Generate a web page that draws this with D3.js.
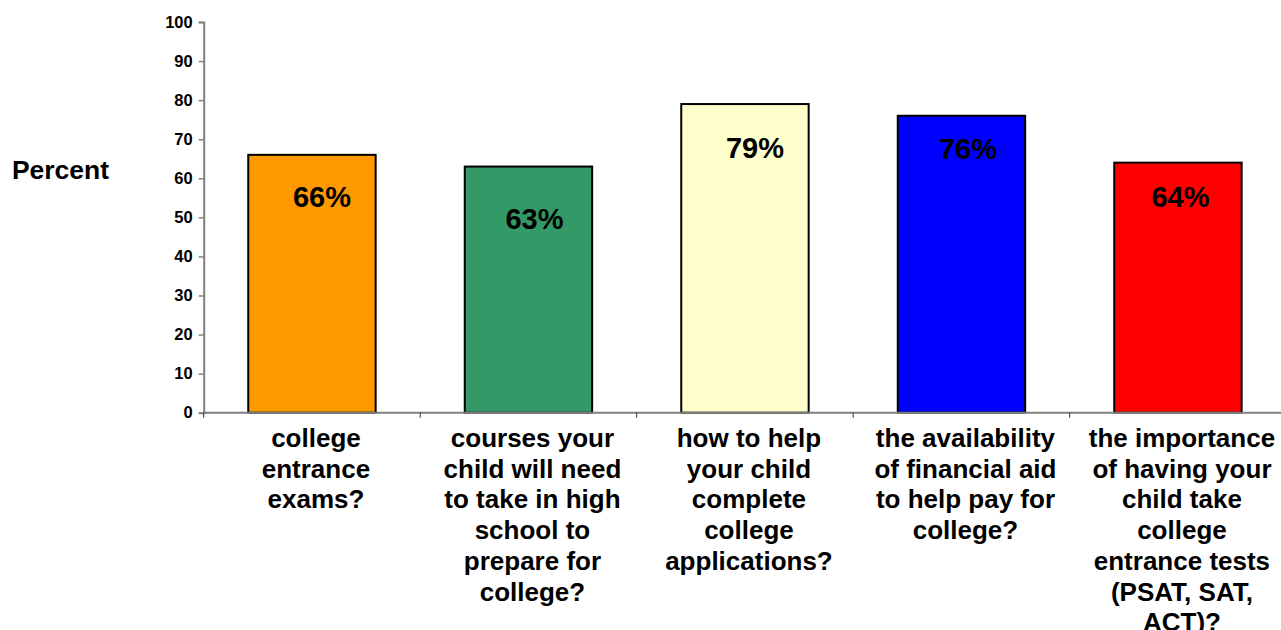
<!DOCTYPE html>
<html>
<head>
<meta charset="utf-8">
<script src="https://cdn.jsdelivr.net/npm/d3@7"></script>
<style>
  html, body { margin: 0; padding: 0; background: #fff; }
  svg { display: block; font-family: "Liberation Sans", Arial, Helvetica, sans-serif; font-weight: bold; }
</style>
</head>
<body>
<svg id="chart" width="1281" height="630"></svg>
<script>
// Survey topics (one bar each)
const categories = [
  "college entrance exams?",
  "courses your child will need to take in high school to prepare for college?",
  "how to help your child complete college applications?",
  "the availability of financial aid to help pay for college?",
  "the importance of having your child take college entrance tests (PSAT, SAT, ACT)?"
];
// Wrapped lines of each category label
const categoryLines = [
  ["college", "entrance", "exams?"],
  ["courses your", "child will need", "to take in high", "school to", "prepare for", "college?"],
  ["how to help", "your child", "complete", "college", "applications?"],
  ["the availability", "of financial aid", "to help pay for", "college?"],
  ["the importance", "of having your", "child take", "college", "entrance tests", "(PSAT, SAT,", "ACT)?"]
];
// Percent of respondents
const values = [66, 63, 79, 76, 64];
const barColors = ["#FF9900", "#339966", "#FFFFCC", "#0000FF", "#FF0000"];
const yTicks = [0, 10, 20, 30, 40, 50, 60, 70, 80, 90, 100];
const yTitle = "Percent";

// Value label offsets from each bar's top-centre, [dx, dy]
const labelNudge = [[10, 52], [6, 62], [10, 54], [6.5, 43.5], [2.5, 44]];

const svg = d3.select("#chart");
const plotLeft = 203.7, bandStep = 216.5, plotTop = 22, plotBottom = 412.7;
const pad = 1 - 127.4 / bandStep;

const x = d3.scaleBand()
  .domain(categories)
  .range([plotLeft, plotLeft + bandStep * categories.length])
  .paddingInner(pad)
  .paddingOuter(pad / 2);

const y = d3.scaleLinear().domain([0, 100]).range([plotBottom, plotTop]);

// Bars
svg.append("g").selectAll("rect")
  .data(values)
  .join("rect")
  .attr("x", (d, i) => x(categories[i]))
  .attr("y", d => y(d))
  .attr("width", x.bandwidth())
  .attr("height", d => y(0) - y(d))
  .attr("fill", (d, i) => barColors[i])
  .attr("stroke", "#000")
  .attr("stroke-width", 2);

// Value labels
svg.append("g").selectAll("text")
  .data(values)
  .join("text")
  .attr("x", (d, i) => x(categories[i]) + x.bandwidth() / 2 + labelNudge[i][0])
  .attr("y", (d, i) => y(d) + labelNudge[i][1])
  .attr("text-anchor", "middle")
  .attr("font-size", 29)
  .attr("fill", "#000")
  .text(d => d + "%");

// Y axis
const yAxis = svg.append("g")
  .attr("transform", `translate(${plotLeft},0)`)
  .call(d3.axisLeft(y).tickValues(yTicks).tickSize(5).tickPadding(6).tickFormat(d3.format("d")));
yAxis.select(".domain").attr("stroke", "#808080").attr("stroke-width", 2);
yAxis.selectAll(".tick line").attr("stroke", "#808080").attr("stroke-width", 1.5);
yAxis.selectAll(".tick text")
  .attr("font-size", 16.5)
  .attr("font-weight", "bold")
  .attr("font-family", "Liberation Sans, Arial, sans-serif")
  .attr("fill", "#000");

// X axis baseline and category boundary ticks
const xAxis = svg.append("g");
xAxis.append("line")
  .attr("x1", plotLeft).attr("x2", x.range()[1])
  .attr("y1", y(0)).attr("y2", y(0))
  .attr("stroke", "#808080").attr("stroke-width", 2);
xAxis.selectAll("line.tick")
  .data(d3.range(categories.length + 1))
  .join("line")
  .attr("class", "tick")
  .attr("x1", i => x.range()[0] + i * x.step())
  .attr("x2", i => x.range()[0] + i * x.step())
  .attr("y1", y(0)).attr("y2", y(0) + 5)
  .attr("stroke", "#333").attr("stroke-width", 1);

// Category labels, wrapped
const catG = svg.append("g");
categoryLines.forEach((lines, i) => {
  const t = catG.append("text")
    .attr("text-anchor", "middle")
    .attr("font-size", 26)
    .attr("fill", "#000");
  const cx = x(categories[i]) + x.bandwidth() / 2 + 4;
  lines.forEach((ln, j) => {
    t.append("tspan")
      .attr("x", cx)
      .attr("y", 447 + j * 30.7)
      .text(ln);
  });
});

// Y axis title
svg.append("text")
  .attr("x", 60.5)
  .attr("y", 179)
  .attr("text-anchor", "middle")
  .attr("font-size", 26.5)
  .attr("fill", "#000")
  .text(yTitle);
</script>
</body>
</html>
